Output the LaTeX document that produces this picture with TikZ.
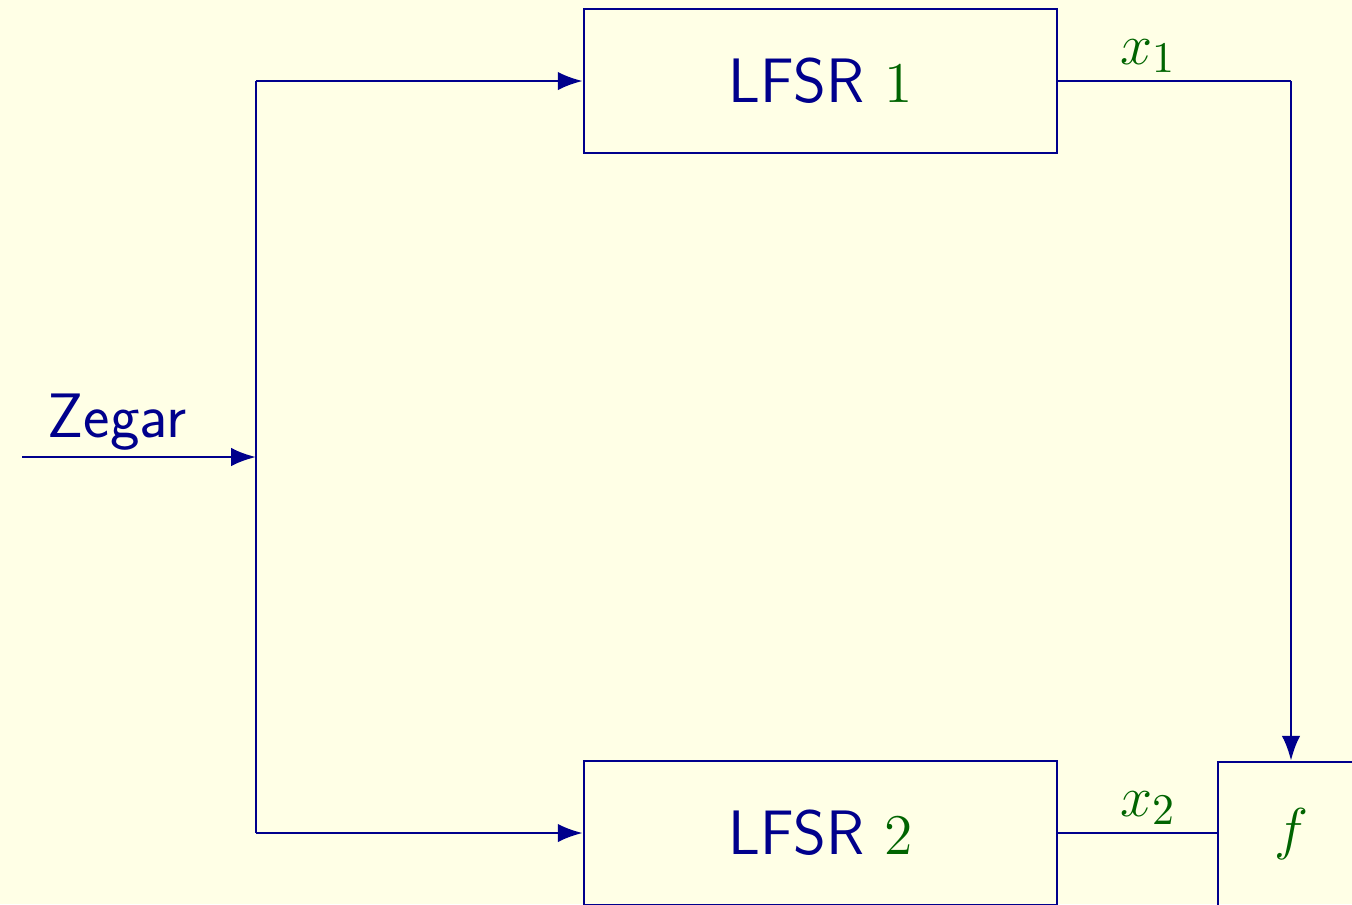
\documentclass[tikz,border=0pt]{standalone}
\usetikzlibrary{arrows.meta}
\definecolor{bgc}{RGB}{255,255,230}
\definecolor{navy}{RGB}{0,0,140}
\definecolor{mgreen}{RGB}{0,100,0}
\newcommand{\gm}[1]{\textcolor{mgreen}{$#1$}}
\begin{document}
\begin{tikzpicture}[x=0.25pt,y=-0.25pt,
  every node/.style={font=\fontsize{15.7}{19}\selectfont\sffamily, text=navy},
  blk/.style={draw=navy, line width=0.65pt, minimum width=118.25pt, minimum height=36pt, inner sep=0pt},
  fblk/.style={draw=navy, line width=0.65pt, minimum width=36.5pt, minimum height=36pt, inner sep=0pt},
  wire/.style={draw=navy, line width=0.65pt},
  arr/.style={wire, -{Latex[length=6.2pt,width=4.6pt]}},
  lbl/.style={anchor=base, inner sep=0pt}]
\fill[bgc] (0,0) rectangle (1352,904);
\useasboundingbox (0,0) rectangle (1352,904);
\node[blk] (l1) at (820.5,81) {LFSR \gm{1}};
\node[blk] (l2) at (820.5,833) {LFSR \gm{2}};
\node[fblk] (f) at (1291,834) {\gm{f}};
\coordinate (zin) at (22,457);
\coordinate (split) at (256,457);
\coordinate (top) at (256,81);
\coordinate (bot) at (256,833);
\coordinate (c1) at (1291,81);
\draw[arr] (zin) -- (split);
\node[lbl] (zl) at (117,437) {Zegar};
\draw[wire] (top) -- (bot);
\draw[arr] (top) -- (l1.west);
\draw[arr] (bot) -- (l2.west);
\draw[wire] (l1.east) -- (c1);
\draw[arr] (c1) -- (f.north);
\draw[wire] (l2.east) -- (f.west |- l2.east);
\node[lbl] (x1) at (1148,64) {\gm{x_1}};
\node[lbl] (x2) at (1148,816) {\gm{x_2}};
\end{tikzpicture}
\end{document}
